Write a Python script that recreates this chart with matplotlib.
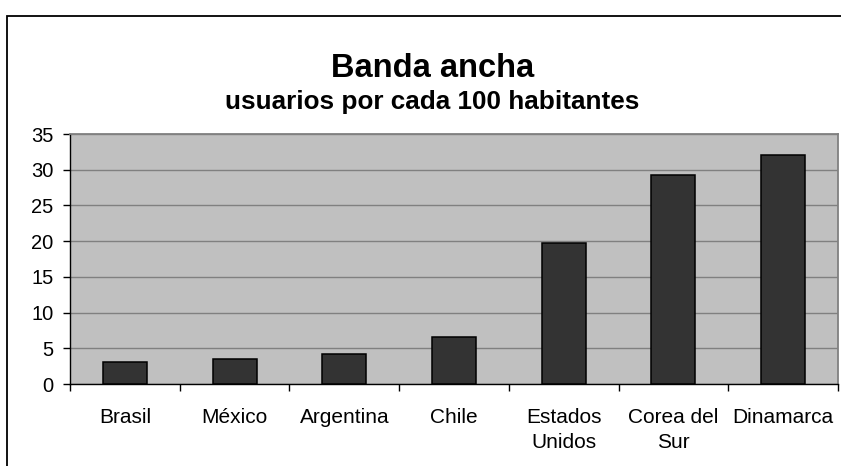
import matplotlib
matplotlib.use("Agg")
import matplotlib.pyplot as plt
from matplotlib.patches import Rectangle
from matplotlib.ticker import FixedLocator, NullFormatter

plt.rcParams['font.family'] = ['Liberation Sans', 'DejaVu Sans']

paises = ["Brasil", "México", "Argentina", "Chile", "Estados\nUnidos", "Corea del\nSur", "Dinamarca"]
usuarios = [3.1, 3.5, 4.2, 6.6, 19.7, 29.3, 32.0]
y_ticks = [0, 5, 10, 15, 20, 25, 30, 35]

W, H = 841, 466
fig = plt.figure(figsize=(W / 100, H / 100), dpi=100)
fig.patch.set_facecolor("white")

# outer chart frame (runs past the right and bottom edges)
fig.patches.append(Rectangle((7 / W, -0.1), 1.2, (H - 16) / H + 0.1,
                             transform=fig.transFigure, fill=False,
                             edgecolor="black", linewidth=1.3, zorder=0))

ax = fig.add_axes([70 / W, (H - 384) / H, 768 / W, 250 / H])
ax.set_facecolor("#C0C0C0")

x = list(range(len(paises)))
ax.bar(x, usuarios, width=0.4, color="#333333", edgecolor="black",
       linewidth=1.1, zorder=3)

ax.set_xlim(-0.5, len(paises) - 0.5)
ax.set_ylim(0, 35)
ax.set_yticks(y_ticks)
ax.set_yticklabels([str(v) for v in y_ticks], fontsize=14.5)
ax.yaxis.grid(True, color="#808080", linewidth=1.0, zorder=1)
ax.set_axisbelow(True)

ax.set_xticks(x)
ax.set_xticklabels(paises, fontsize=15, linespacing=1.4)
ax.xaxis.set_minor_locator(FixedLocator([i + 0.5 for i in range(-1, len(paises))]))
ax.xaxis.set_minor_formatter(NullFormatter())
ax.tick_params(axis="x", which="major", length=0, pad=17.5)
ax.tick_params(axis="x", which="minor", length=5, width=1, color="black", direction="out")
ax.tick_params(axis="y", which="major", length=5, width=1, color="black", pad=7)

for side in ("top", "right"):
    ax.spines[side].set_color("#808080")
    ax.spines[side].set_linewidth(1.3)
for side in ("left", "bottom"):
    ax.spines[side].set_color("black")
    ax.spines[side].set_linewidth(1.0)

fig.text(433 / W, 1 - 77 / H, "Banda ancha", ha="center", va="baseline",
         fontsize=23.5, fontweight="bold")
fig.text(432 / W, 1 - 109 / H, "usuarios por cada 100 habitantes", ha="center",
         va="baseline", fontsize=18.8, fontweight="bold")

fig.savefig("out.png", dpi=100, facecolor="white")
